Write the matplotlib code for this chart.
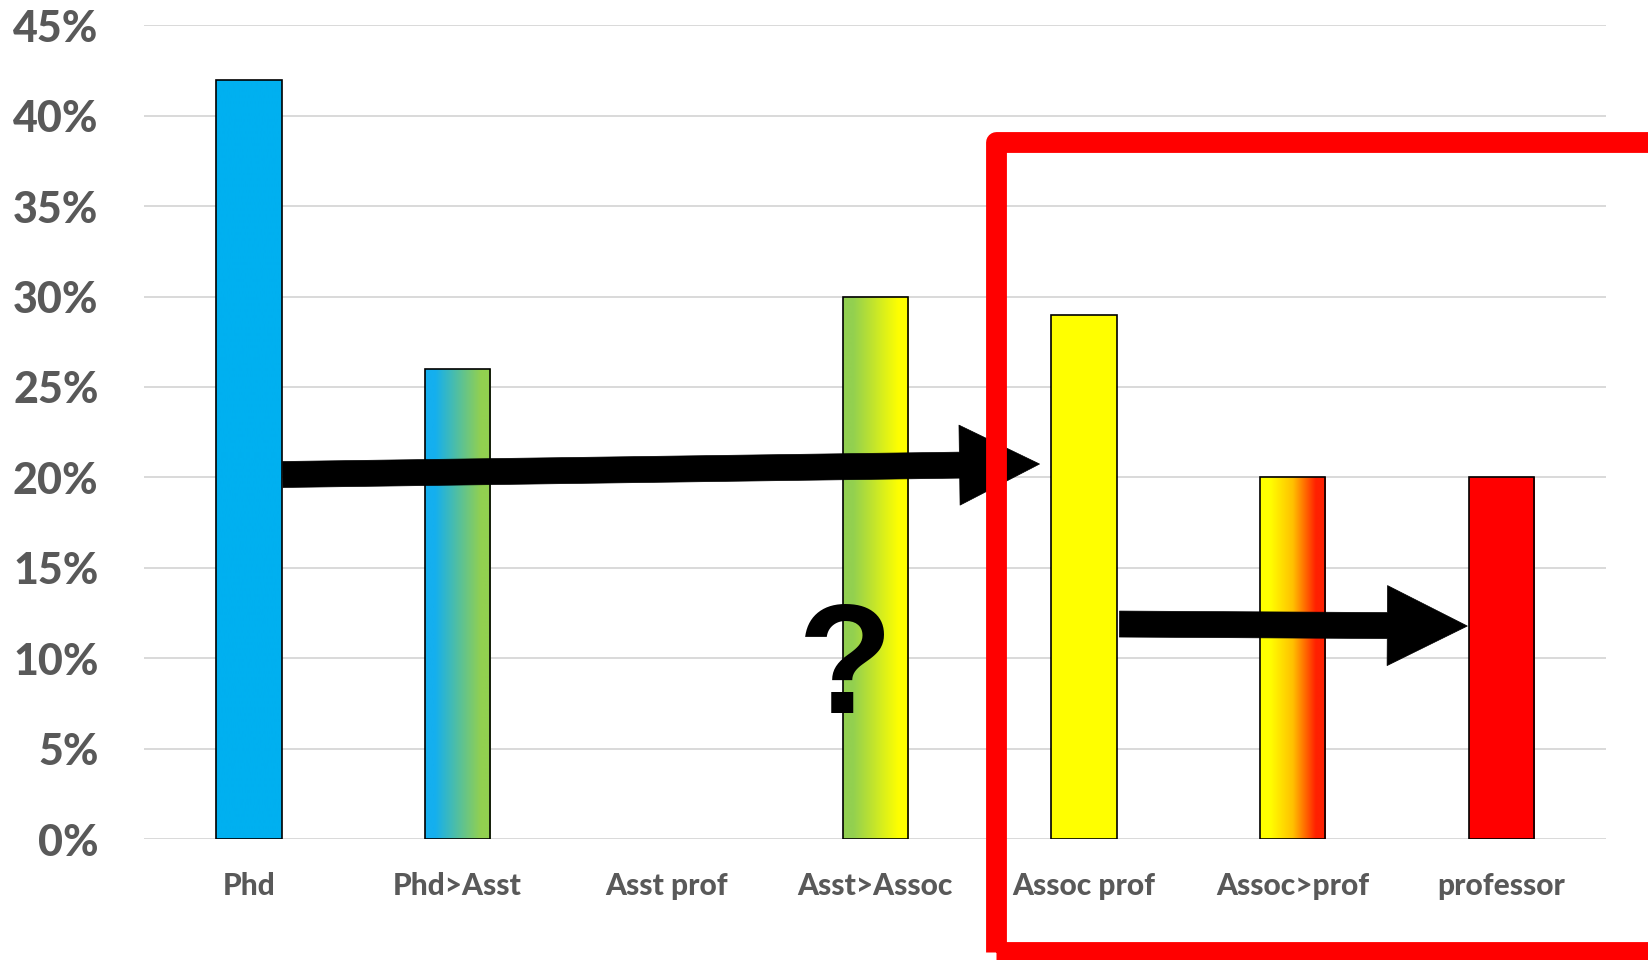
import matplotlib
matplotlib.use('Agg')
import matplotlib.pyplot as plt
import numpy as np
from matplotlib.colors import LinearSegmentedColormap
from matplotlib.patches import Rectangle

categories = ['Phd', 'Phd>Asst', 'Asst prof', 'Asst>Assoc', 'Assoc prof', 'Assoc>prof', 'professor']
values = [42, 26, 0, 30, 29, 20, 20]
# left -> right gradient colours of each bar
bar_colors = [
    ['#00B0F0', '#00B0F0'],
    ['#14AFEF', '#92D050'],
    ['#FFFFFF', '#FFFFFF'],
    ['#92D050', '#FFFF00'],
    ['#FFFF00', '#FFFF00'],
    ['#FFFF00', '#FFC000', '#FF2000'],
    ['#FF0000', '#FF0000'],
]
yticks = [0, 5, 10, 15, 20, 25, 30, 35, 40, 45]

# arrows (data coords: category index, percent)
arrow1_start, arrow1_end = (0.163, 20.16), (3.787, 20.74)
arrow2_start, arrow2_end = (4.17, 11.89), (5.836, 11.78)
qmark_pos = (2.858, 6.97)

fig = plt.figure(figsize=(16.49, 9.6), dpi=100)
ax = fig.add_axes([0.0876, 0.1260, 0.8863, 0.8476])

w = 0.313
grad = np.linspace(0, 1, 256)
for i, (v, cols) in enumerate(zip(values, bar_colors)):
    if v <= 0:
        continue
    bar = ax.bar(i, v, width=w, facecolor='none', edgecolor='black', linewidth=1.2, zorder=4)[0]
    cmap = LinearSegmentedColormap.from_list('g%d' % i, cols)
    g = np.clip((grad - 0.15) / 0.7, 0, 1).reshape(1, -1)
    im = ax.imshow(g, cmap=cmap, vmin=0, vmax=1, aspect='auto', interpolation='bilinear',
                   extent=(i - w / 2, i + w / 2, 0, v), zorder=3)
    im.set_clip_path(bar)

ax.set_xlim(-0.5, len(categories) - 0.5)
ax.set_ylim(0, 45)
ax.set_xticks(range(len(categories)))
ax.set_xticklabels(categories)
ax.set_yticks(yticks)
ax.set_yticklabels(['%d%%' % t for t in yticks])
ax.grid(axis='y', color='#D9D9D9', linewidth=1.4, zorder=0)
ax.set_axisbelow(True)
for s in ax.spines.values():
    s.set_visible(False)
ax.tick_params(length=0)
ax.tick_params(axis='y', pad=33)
ax.tick_params(axis='x', pad=24)
for lbl in ax.get_yticklabels():
    lbl.set_fontfamily('Lato')
    lbl.set_fontweight('black')
    lbl.set_fontsize(31)
    lbl.set_color('#595959')
for lbl in ax.get_xticklabels():
    lbl.set_fontfamily('Lato')
    lbl.set_fontweight('black')
    lbl.set_fontsize(21.5)
    lbl.set_color('#595959')

style = 'simple,head_length=5.76,head_width=5.76,tail_width=1.87'
for a, b in [(arrow1_start, arrow1_end), (arrow2_start, arrow2_end)]:
    ax.annotate('', xy=b, xytext=a, zorder=6,
                arrowprops=dict(arrowstyle=style, mutation_scale=10, fc='black', ec='black',
                                lw=0.5, shrinkA=0, shrinkB=0))

ax.text(qmark_pos[0], qmark_pos[1], '?', fontsize=112, family=['Liberation Sans', 'DejaVu Sans'],
        fontweight='bold', ha='center', va='baseline', color='black', zorder=7)

# red highlight box
box = Rectangle((996 / 1649, 8 / 960), 0.6, (952 - 141.7) / 960, transform=fig.transFigure,
                fill=False, edgecolor='#FF0000', linewidth=15, joinstyle='round',
                clip_on=False, zorder=10)
fig.add_artist(box)

fig.savefig('out.png', dpi=100)
